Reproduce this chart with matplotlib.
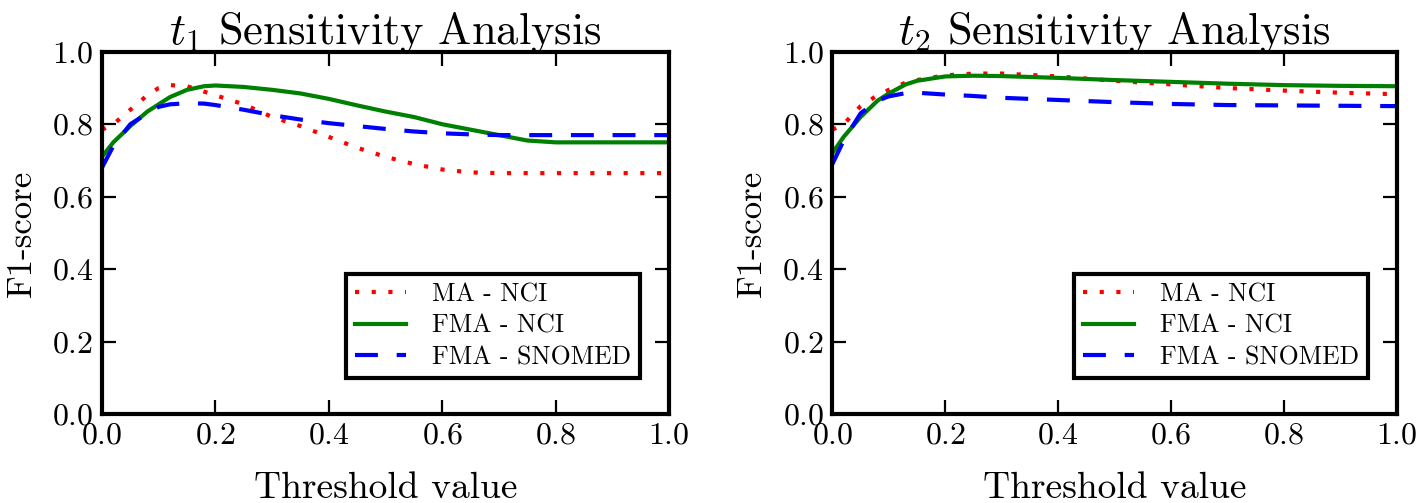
import matplotlib
matplotlib.use("Agg")
import matplotlib.pyplot as plt

plt.rcParams['font.family'] = 'serif'
plt.rcParams['font.serif'] = ['cmr10']
plt.rcParams['mathtext.fontset'] = 'cm'
plt.rcParams['axes.formatter.use_mathtext'] = True

SERIES_NAMES = ["MA - NCI", "FMA - NCI", "FMA - SNOMED"]

# t1 sensitivity
t1_x = [0.0, 0.02, 0.05, 0.08, 0.10, 0.12, 0.15, 0.18, 0.20, 0.25, 0.30, 0.35,
        0.40, 0.45, 0.50, 0.55, 0.60, 0.65, 0.70, 0.75, 0.80, 0.90, 1.0]
t1_ma_nci = [0.785, 0.80, 0.84, 0.88, 0.90, 0.908, 0.905, 0.89, 0.88, 0.855, 0.82, 0.795,
             0.765, 0.735, 0.71, 0.69, 0.675, 0.667, 0.665, 0.665, 0.665, 0.665, 0.665]
t1_fma_nci = [0.71, 0.75, 0.795, 0.835, 0.855, 0.875, 0.895, 0.905, 0.907, 0.903, 0.895, 0.885,
              0.87, 0.852, 0.835, 0.82, 0.80, 0.785, 0.77, 0.755, 0.75, 0.75, 0.75]
t1_fma_snomed = [0.68, 0.74, 0.80, 0.83, 0.848, 0.855, 0.858, 0.857, 0.853, 0.84, 0.825, 0.813,
                 0.803, 0.795, 0.787, 0.78, 0.775, 0.772, 0.77, 0.77, 0.77, 0.77, 0.77]

# t2 sensitivity
t2_x = [0.0, 0.02, 0.05, 0.08, 0.10, 0.13, 0.15, 0.20, 0.25, 0.30, 0.40, 0.50,
        0.60, 0.70, 0.80, 0.90, 1.0]
t2_ma_nci = [0.785, 0.80, 0.85, 0.88, 0.895, 0.915, 0.922, 0.935, 0.94, 0.94, 0.932, 0.92,
             0.91, 0.90, 0.893, 0.887, 0.883]
t2_fma_nci = [0.72, 0.765, 0.82, 0.865, 0.885, 0.91, 0.92, 0.932, 0.934, 0.933, 0.928, 0.922,
              0.917, 0.912, 0.908, 0.906, 0.905]
t2_fma_snomed = [0.69, 0.755, 0.83, 0.865, 0.877, 0.886, 0.887, 0.882, 0.878, 0.873, 0.867, 0.861,
                 0.856, 0.853, 0.852, 0.851, 0.85]

TICKS = [0.0, 0.2, 0.4, 0.6, 0.8, 1.0]


def draw_panel(ax, x, ma, fma, snomed, title):
    ax.plot(x, ma, color='r', linestyle=(0, (1, 3)), linewidth=3.0, label=SERIES_NAMES[0])
    ax.plot(x, fma, color='g', linestyle='-', linewidth=3.0, label=SERIES_NAMES[1])
    ax.plot(x, snomed, color='b', linestyle=(0, (5.5, 4.5)), linewidth=3.0, label=SERIES_NAMES[2])
    ax.set_xlim(0, 1)
    ax.set_ylim(0, 1)
    ax.set_xticks(TICKS)
    ax.set_yticks(TICKS)
    ax.tick_params(direction='in', top=True, right=True, length=10, width=1.6,
                   labelsize=23, pad=6)
    for s in ax.spines.values():
        s.set_linewidth(3.0)
    ax.set_title(title, fontsize=32, pad=6)
    ax.set_xlabel("Threshold value", fontsize=27, labelpad=16)
    ax.set_ylabel("F1-score", fontsize=25, labelpad=10)
    leg = ax.legend(loc='lower right', bbox_to_anchor=(0.949, 0.099), borderaxespad=0,
                    fontsize=18.5, fancybox=False, framealpha=1, handlelength=2.0,
                    handletextpad=1.0, borderpad=0.35, labelspacing=0.3)
    leg.get_frame().set_edgecolor('black')
    leg.get_frame().set_linewidth(3.0)


fig = plt.figure(figsize=(14.18, 5.03), dpi=100)
ax1 = fig.add_axes([0.0719, 0.177, 0.400, 0.720])
ax2 = fig.add_axes([0.587, 0.177, 0.398, 0.720])

draw_panel(ax1, t1_x, t1_ma_nci, t1_fma_nci, t1_fma_snomed, r"$t_1$ Sensitivity Analysis")
draw_panel(ax2, t2_x, t2_ma_nci, t2_fma_nci, t2_fma_snomed, r"$t_2$ Sensitivity Analysis")

fig.savefig("out.png", dpi=100)
